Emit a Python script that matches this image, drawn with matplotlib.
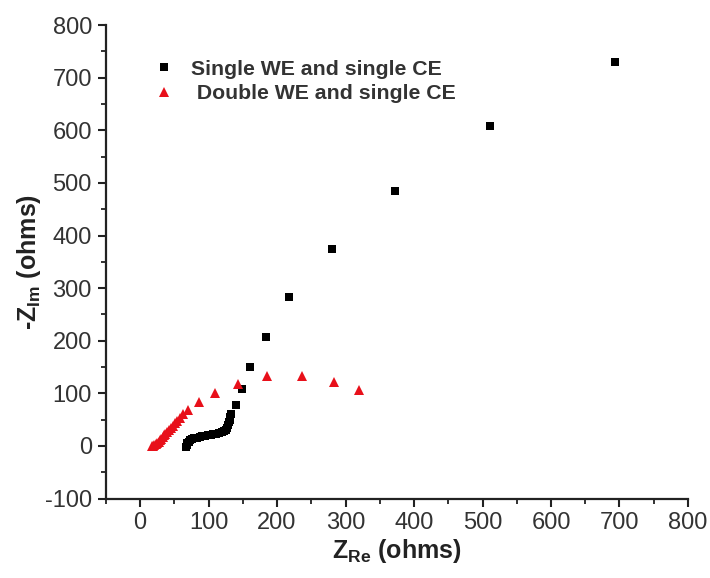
import numpy as np
import matplotlib.pyplot as plt
from matplotlib.ticker import MultipleLocator

plt.rcParams['font.family'] = ['Liberation Sans', 'DejaVu Sans']
plt.rcParams['mathtext.fontset'] = 'custom'
plt.rcParams['mathtext.rm'] = 'Liberation Sans:bold'
plt.rcParams['mathtext.bf'] = 'Liberation Sans:bold'
plt.rcParams['axes.unicode_minus'] = False

# single working electrode, single counter electrode
single_re = [67, 68, 69, 71, 73, 76, 79, 83, 87, 91, 95, 99, 103, 107, 111,
             115, 119, 122, 125, 127, 129, 130, 131, 132, 133,
             140, 149, 161, 184, 217, 280, 372, 511, 694]
single_im = [-2, 2, 5, 8, 11, 13, 15, 16, 17, 18, 19, 20, 21, 22, 23,
             24, 26, 28, 31, 35, 40, 45, 50, 55, 60,
             78, 109, 150, 207, 283, 375, 484, 608, 730]

# double working electrode, single counter electrode
double_re = [17, 19, 21, 23, 25, 27, 29, 31, 33, 35, 37, 39, 42, 45, 48,
             51, 54, 58, 63, 70, 86, 110, 143, 186, 237, 283, 319]
double_im = [-1, 0, 1, 3, 5, 8, 11, 14, 17, 20, 23, 26, 30, 34, 38,
             43, 48, 54, 61, 68, 83, 101, 118, 132, 133, 122, 106]

fig = plt.figure(figsize=(7.1, 5.78), dpi=100)
ax = fig.add_axes([0.149, 0.1375, 0.820, 0.819])

ax.plot(single_re, single_im, 's', color='black', ms=5.5, mew=0,
        label='Single WE and single CE')
ax.plot(double_re, double_im, '^', color='#e8101a', ms=7, mew=0,
        label=' Double WE and single CE')

ax.set_xlim(-50, 800)
ax.set_ylim(-100, 800)
ax.xaxis.set_minor_locator(MultipleLocator(50))
ax.yaxis.set_major_locator(MultipleLocator(100))
ax.yaxis.set_minor_locator(MultipleLocator(50))
ax.set_xticks(np.arange(0, 801, 100))

for s in ['top', 'right']:
    ax.spines[s].set_visible(False)
for s in ['left', 'bottom']:
    ax.spines[s].set_linewidth(1.6)
    ax.spines[s].set_color('#222222')

ax.tick_params(which='major', direction='out', length=6, width=1.5,
               labelsize=17, colors='#222222', labelcolor='#333333', pad=4)
ax.tick_params(which='minor', direction='out', length=3.5, width=1.3,
               colors='#222222')

ax.set_xlabel(r'$\mathbf{Z_{Re}}$ (ohms)', fontsize=18, fontweight='bold',
              color='#222222', labelpad=2)
ax.set_ylabel(r'-$\mathbf{Z_{Im}}$ (ohms)', fontsize=18, fontweight='bold',
              color='#222222', labelpad=1)

leg = ax.legend(loc='upper left', bbox_to_anchor=(0.063, 0.958), frameon=False,
                fontsize=15.3, handlelength=0.6, handletextpad=1.0,
                labelspacing=0.25, borderpad=0.2)
for t in leg.get_texts():
    t.set_fontweight('bold')
    t.set_color('#333333')

fig.savefig('out.png', dpi=100)
